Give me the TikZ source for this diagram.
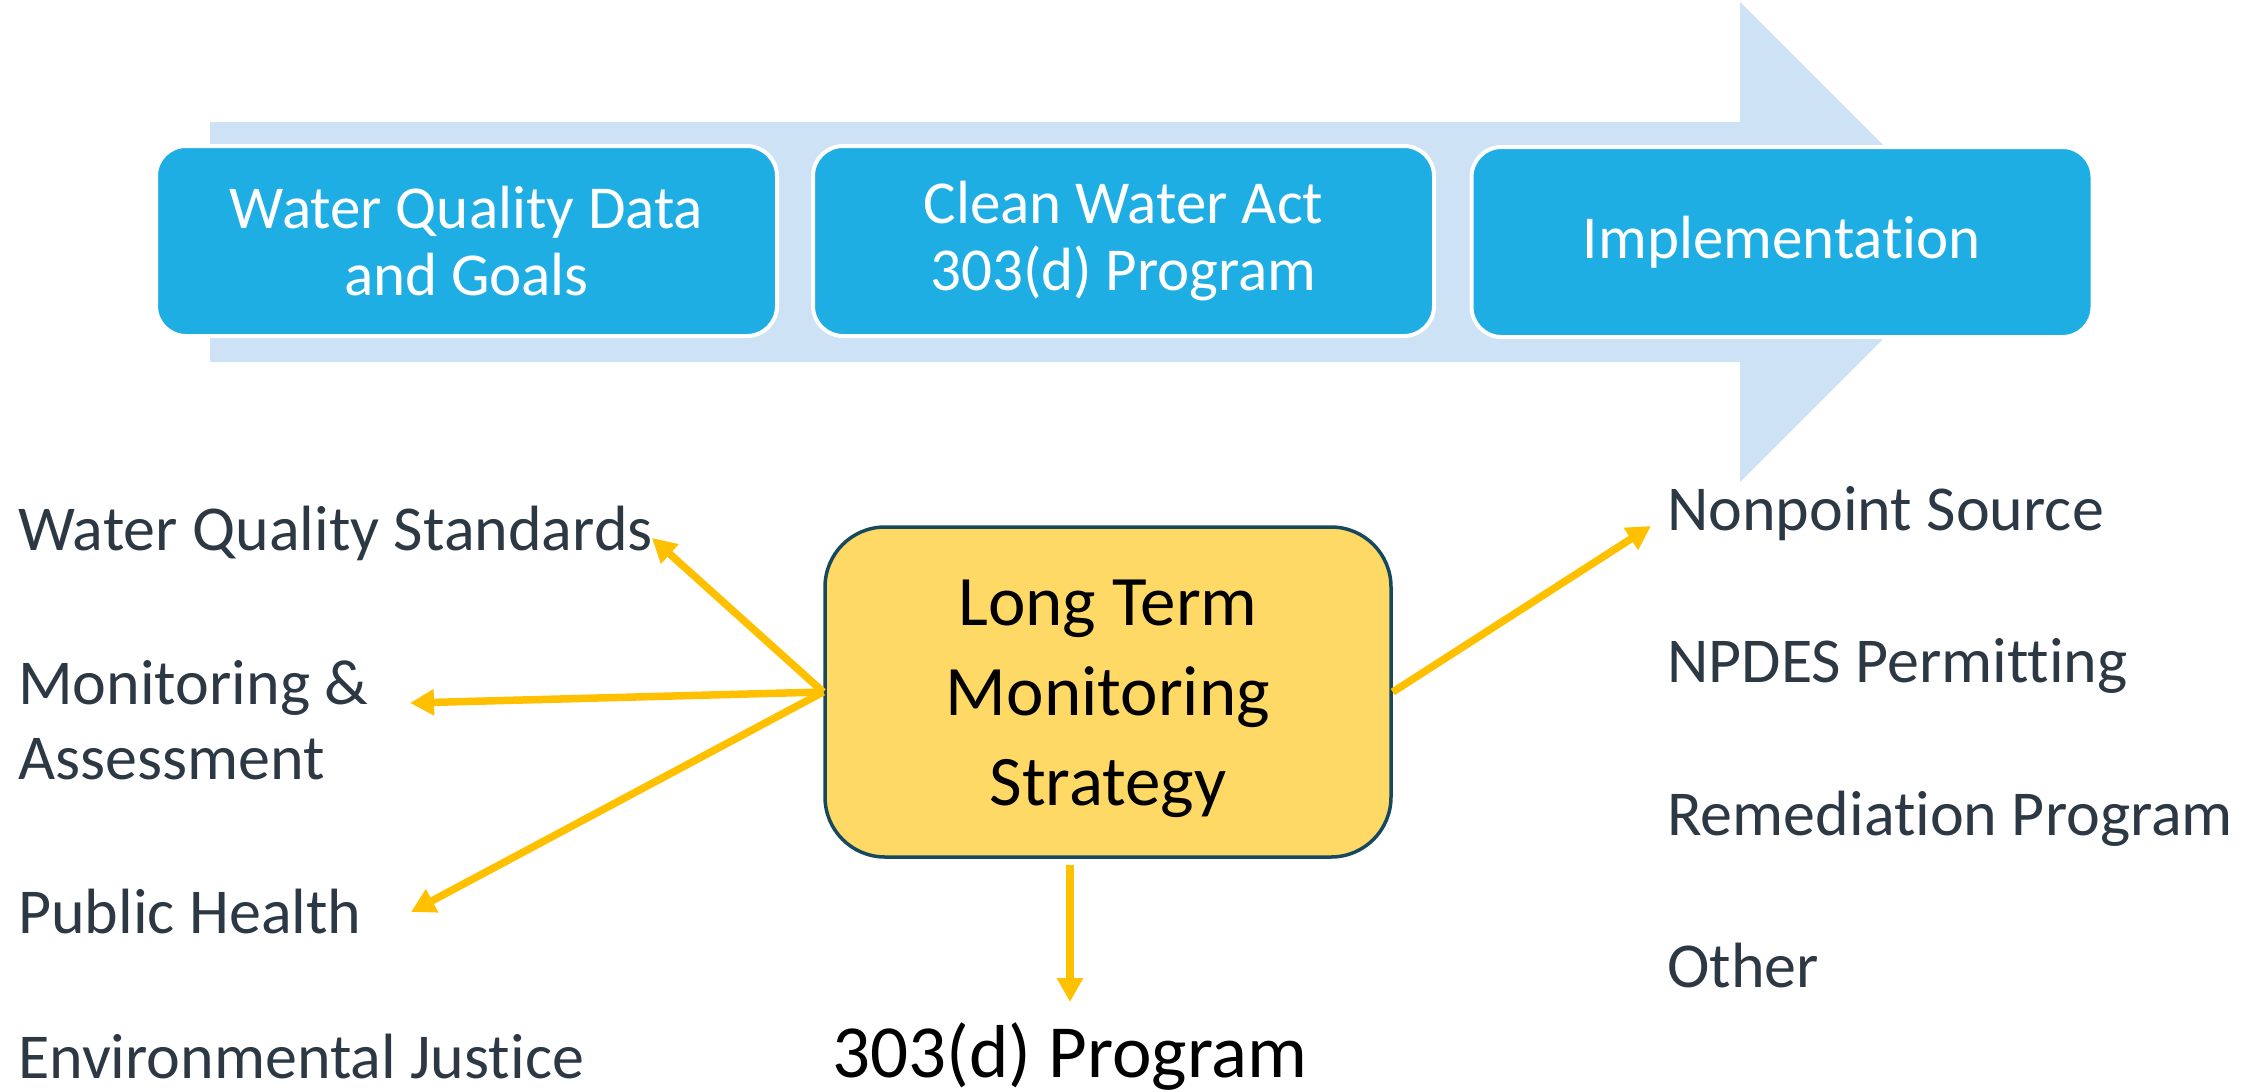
\documentclass[tikz,border=0pt]{standalone}
\usepackage{fontspec}
\setmainfont{Carlito}[Ligatures=NoCommon]
\usetikzlibrary{arrows.meta}
\definecolor{arrowbg}{RGB}{205,226,244}
\definecolor{stageblue}{RGB}{31,174,227}
\definecolor{goldfill}{RGB}{255,217,102}
\definecolor{tealline}{RGB}{22,73,94}
\definecolor{arrowgold}{RGB}{255,192,0}
\definecolor{slate}{RGB}{44,56,68}
\begin{document}
\begin{tikzpicture}[x=1pt,y=-1pt,
  stage/.style={draw=white, line width=4pt, fill=stageblue, rounded corners=30pt,
    minimum width=621pt, minimum height=190pt, inner sep=0pt, align=center,
    text=white, font=\fontsize{61}{67}\selectfont},
  ltmsbox/.style={draw=tealline, line width=3.5pt, fill=goldfill, rounded corners=60pt,
    minimum width=566pt, minimum height=330pt, inner sep=0pt, align=center,
    text=black, font=\fontsize{71}{90}\selectfont},
  side/.style={inner sep=0pt, anchor=base west, text=slate,
    font=\fontsize{64}{75}\selectfont},
  conn/.style={draw=arrowgold, line width=7.5pt, -{Triangle[length=24pt,width=25pt]}}
]
\useasboundingbox (0,0) rectangle (2257,1092);
% background process arrow
\fill[arrowbg] (210,122) -- (1740,122) -- (1740,2) -- (1980,242) -- (1740,482)
  -- (1740,362) -- (210,362) -- cycle;
% stages
\node[stage] (s1) at (466.5,241) {Water Quality Data\\and Goals};
\node[stage] (s2) at (1123.5,241) {Clean Water Act\\303(d) Program};
\node[stage] (s3) at (1782,242) {Implementation};
% central box
\node[ltmsbox] (ltms) at (1108,692) {\rule{0pt}{59pt}Long Term\\Monitoring\\Strategy};
% left labels
\node[side] (wqs) at (18,550) {Water Quality Standards};
\node[side] (mon) at (18,704) {\vtop{\hbox{Monitoring \&}\hbox{Assessment}}};
\node[side] (ph) at (18,933) {Public Health};
\node[side] (ej) at (18,1078) {Environmental Justice};
% right labels
\node[side] (nps) at (1667,530) {Nonpoint Source};
\node[side] (npdes) at (1667,682) {NPDES Permitting};
\node[side] (rem) at (1667,835) {Remediation Program};
\node[side] (oth) at (1667,987) {Other};
% bottom label
\node[inner sep=0pt, anchor=base, font=\fontsize{75}{90}\selectfont] (prog) at (1070,1077) {303(d) Program};
% arrow tips
\coordinate (twqs) at (652,538);
\coordinate (tmon) at (410,703);
\coordinate (tph) at (411,912);
\coordinate (tnps) at (1651,526);
\coordinate (tprog) at (1070,1002);
% connectors
\draw[conn] (ltms.west) -- (twqs);
\draw[conn] (ltms.west) -- (tmon);
\draw[conn] (ltms.west) -- (tph);
\draw[conn] (ltms.east) -- (tnps);
\draw[conn, shorten <=6pt] (ltms.south -| prog) -- (tprog);
\end{tikzpicture}
\end{document}
